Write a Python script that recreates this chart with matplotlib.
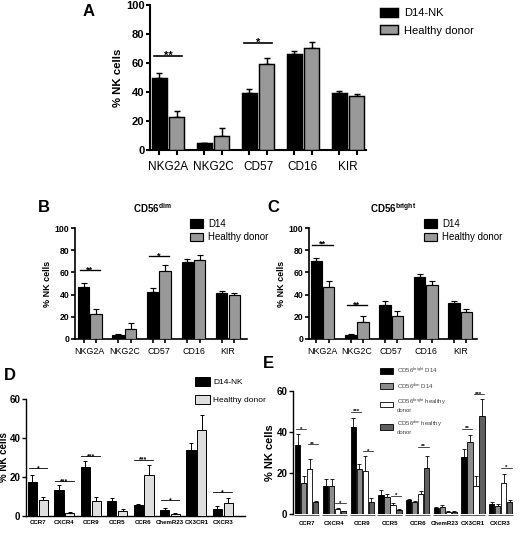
import matplotlib
matplotlib.use('Agg')
import matplotlib.pyplot as plt
import matplotlib.transforms as mtransforms
import numpy as np

plt.rcParams['font.family'] = ['Liberation Sans', 'DejaVu Sans']
plt.rcParams['mathtext.default'] = 'regular'

W, H, DPI = 520, 533, 100

# ─── DATA ────────────────────────────────────────────────────────────────────
nk_markers = ['NKG2A', 'NKG2C', 'CD57', 'CD16', 'KIR']

# A: all NK cells
a_d14 = [49.5, 4.5, 39.5, 66, 39]
a_d14_err = [3.5, 0.5, 2.5, 2.5, 1.5]
a_hd = [23, 9.5, 59, 70, 37]
a_hd_err = [4, 5.5, 4.5, 4.5, 1.5]
a_sig_group = [0, 2]
a_sig_y = [65, 73.5]
a_sig_txt = ['**', '*']

# B: CD56dim
b_d14 = [47, 3.6, 42.7, 69.5, 41.5]
b_d14_err = [3.5, 0.6, 3, 2.5, 2]
b_hd = [22.6, 9, 61.6, 71.6, 40]
b_hd_err = [4.4, 5.4, 4.9, 4.4, 1]
b_sig_group = [0, 2]
b_sig_y = [62, 74.6]
b_sig_txt = ['**', '*']

# C: CD56bright
c_d14 = [70, 3.6, 31, 55.8, 32.8]
c_d14_err = [3, 0.9, 3.3, 3.2, 1.8]
c_hd = [46.6, 15.2, 21, 49, 24.2]
c_hd_err = [5.4, 5.1, 3.8, 3, 2.8]
c_sig_group = [0, 1]
c_sig_y = [85, 30.7]
c_sig_txt = ['**', '**']

# D: chemokine receptors, all NK
chemo = ['CCR7', 'CXCR4', 'CCR9', 'CCR5', 'CCR6', 'ChemR23', 'CX3CR1', 'CXCR3']
d_d14 = [17.4, 13.5, 25, 7.6, 5.6, 3, 33.8, 3.7]
d_d14_err = [3.4, 2.2, 3, 1.7, 0.5, 0.9, 3.7, 1.4]
d_hd = [8.4, 1.5, 7.8, 2.5, 20.8, 1.2, 44, 6.8]
d_hd_err = [1.4, 0.7, 2, 0.9, 5.6, 0.3, 8, 2.5]
d_sig_group = [0, 1, 2, 4, 5, 7]
d_sig_y = [24.5, 17.7, 30.6, 28.9, 8.1, 12.3]
d_sig_txt = ['*', '***', '***', '***', '*', '*']

# E: chemokine receptors by subset
e_bd14 = [33.7, 13.8, 42.3, 9.1, 6.8, 2.8, 28, 4.7]
e_bd14_err = [5.2, 3.1, 4.4, 2.8, 0.5, 0.5, 3.5, 1]
e_dd14 = [15, 13.8, 21.8, 8.1, 5.7, 3.6, 35.3, 4.1]
e_dd14_err = [3.5, 3.1, 2.6, 1.8, 0.5, 0.8, 3.2, 0.8]
e_bhd = [21.8, 2.3, 21, 4.2, 9.6, 1.1, 13.8, 15.3]
e_bhd_err = [5, 0.6, 7.5, 1, 1.8, 0.2, 4.7, 4.2]
e_dhd = [6, 1.3, 6, 2, 22.3, 1.1, 48, 5.9]
e_dhd_err = [0.5, 0.3, 1.6, 0.3, 6.2, 0.2, 8.3, 0.9]
# pair 0 = D14 bright vs dim, pair 1 = healthy bright vs dim
e_sig_group = [0, 0, 1, 2, 2, 3, 4, 6, 6, 7]
e_sig_pair = [0, 1, 1, 0, 1, 1, 1, 0, 1, 1]
e_sig_y = [41.3, 34, 5.2, 50, 30.7, 9, 32.8, 41.6, 58.5, 22.6]
e_sig_txt = ['*', '**', '*', '***', '*', '*', '**', '**', '***', '*']

# ─── HELPERS ─────────────────────────────────────────────────────────────────
fig = plt.figure(figsize=(W / DPI, H / DPI), dpi=DPI)


def add_ax(x0, x1, y_top, y_bot):
    return fig.add_axes([x0 / W, 1 - y_bot / H, (x1 - x0) / W, (y_bot - y_top) / H])


def style(ax, ylim, yticks, yfs, lw=1.2):
    ax.set_ylim(*ylim)
    ax.set_yticks(yticks)
    for s in ['top', 'right']:
        ax.spines[s].set_visible(False)
    for s in ['left', 'bottom']:
        ax.spines[s].set_linewidth(lw)
    ax.tick_params(axis='y', length=3, width=lw, labelsize=yfs, pad=1)
    for t in ax.get_yticklabels():
        t.set_fontweight('bold')


def grouped(ax, series, errs, colors, step, width, lw=0.8, cap=2):
    x = np.arange(len(series[0]))
    offs = (np.arange(len(series)) - (len(series) - 1) / 2) * step
    bars = []
    for s, e, c, o in zip(series, errs, colors, offs):
        b = ax.bar(x + o, s, width, color=c, edgecolor='black', linewidth=lw, zorder=3)
        ax.errorbar(x + o, s, yerr=[np.zeros(len(e)), e], fmt='none', ecolor='black',
                    elinewidth=lw, capsize=cap, capthick=lw, zorder=2)
        bars.append(b)
    return x, offs, bars


def sig(ax, x0, x1, y, txt, fs, lw=1.0):
    ax.plot([x0, x1], [y, y], color='black', lw=lw, clip_on=False, zorder=4)
    ax.annotate(txt, ((x0 + x1) / 2, y), xytext=(0, -fs * 0.25), textcoords='offset points',
                ha='center', va='baseline', fontsize=fs, fontweight='bold')


def legend(handles, labels, x, y, fs, hl, hh, ls, tp, color='black'):
    fig.legend(handles, labels, loc='upper left', bbox_to_anchor=(x / W, 1 - y / H),
               frameon=False, fontsize=fs, handlelength=hl, handleheight=hh,
               labelspacing=ls, handletextpad=tp, borderpad=0, borderaxespad=0,
               labelcolor=color)


def nk_panel(ax, d14, d14e, hd, hde, sg, sy, st, step, width, xlim, xfs, yfs, tick_len,
             pad, sfs, lw):
    x, offs, bars = grouped(ax, [d14, hd], [d14e, hde], ['black', '#999999'], step, width,
                            lw=lw * 0.7, cap=2)
    style(ax, (0, 100), range(0, 101, 20), yfs, lw)
    ax.set_xlim(*xlim)
    ax.set_xticks(x, nk_markers, fontsize=xfs)
    ax.tick_params(axis='x', length=0, pad=pad)
    # tick marks hanging under every bar
    trans = mtransforms.blended_transform_factory(ax.transData, ax.transAxes)
    frac = tick_len / (ax.get_position().height * H)
    for o in offs:
        ax.vlines(x + o, -frac, 0, color='black', lw=lw, transform=trans, clip_on=False)
    for g, y, t in zip(sg, sy, st):
        sig(ax, g + offs[0] - width * 0.35, g + offs[1] + width * 0.35, y, t, sfs, lw * 0.8)
    return bars


# ─── PANEL A ─────────────────────────────────────────────────────────────────
axA = add_ax(150, 366, 5, 150)
barsA = nk_panel(axA, a_d14, a_d14_err, a_hd, a_hd_err, a_sig_group, a_sig_y, a_sig_txt,
                 0.378, 0.355, (-0.4, 4.4), 8.5, 8, 5, 8, 8, 1.5)
axA.set_ylabel('% NK cells', fontsize=8.2, fontweight='bold', labelpad=2)
fig.text(83 / W, 1 - 12 / H, 'A', fontsize=12, fontweight='bold', va='center')
legend(barsA, ['D14-NK', 'Healthy donor'], 380, 8, 8, 1.6, 0.9, 0.6, 0.6)

# ─── PANEL B ─────────────────────────────────────────────────────────────────
axB = add_ax(75, 247, 228, 339)
barsB = nk_panel(axB, b_d14, b_d14_err, b_hd, b_hd_err, b_sig_group, b_sig_y, b_sig_txt,
                 0.36, 0.33, (-0.43, 4.55), 6.4, 6.2, 3.5, 5.5, 6.5, 1.2)
axB.set_ylabel('% NK cells', fontsize=6.5, fontweight='bold', labelpad=2)
axB.set_title('CD56$^{dim}$', fontsize=7, fontweight='bold', x=0.45, y=1.06)
fig.text(38 / W, 1 - 207 / H, 'B', fontsize=12, fontweight='bold', va='center')
legend(barsB, ['D14', 'Healthy donor'], 190, 219, 7, 1.35, 0.95, 0.35, 0.5)

# ─── PANEL C ─────────────────────────────────────────────────────────────────
axC = add_ax(309, 477, 228, 339)
barsC = nk_panel(axC, c_d14, c_d14_err, c_hd, c_hd_err, c_sig_group, c_sig_y, c_sig_txt,
                 0.36, 0.33, (-0.39, 4.49), 6.4, 6.2, 3.5, 5.5, 6.5, 1.2)
axC.set_ylabel('% NK cells', fontsize=6.5, fontweight='bold', labelpad=2)
axC.set_title('CD56$^{bright}$', fontsize=7, fontweight='bold', x=0.5, y=1.06)
fig.text(267 / W, 1 - 207 / H, 'C', fontsize=12, fontweight='bold', va='center')
legend(barsC, ['D14', 'Healthy donor'], 424, 219, 7, 1.35, 0.95, 0.35, 0.5)

# ─── PANEL D ─────────────────────────────────────────────────────────────────
axD = add_ax(26, 245, 399, 516)
xD, offD, barsD = grouped(axD, [d_d14, d_hd], [d_d14_err, d_hd_err], ['black', '#dedede'],
                          0.41, 0.35, lw=0.7, cap=1.5)
style(axD, (0, 60), range(0, 61, 20), 7, 1.0)
axD.set_xlim(-0.45, 7.84)
axD.set_xticks(xD)
axD.set_xticklabels(chemo, fontsize=4.4, fontweight='bold')
axD.tick_params(axis='x', length=0, pad=3)
axD.set_ylabel('% NK cells', fontsize=7, fontweight='bold')
axD.yaxis.set_label_coords(-0.078, 0.5)
for g, y, t in zip(d_sig_group, d_sig_y, d_sig_txt):
    sig(axD, g + offD[0] - 0.15, g + offD[1] + 0.15, y, t, 5, 0.6)
fig.text(4 / W, 1 - 376 / H, 'D', fontsize=12, fontweight='bold', va='center')
legend(barsD, ['D14-NK', 'Healthy donor'], 195, 377, 6, 1.8, 1.2, 1.1, 0.35)

# ─── PANEL E ─────────────────────────────────────────────────────────────────
axE = add_ax(293, 520, 391, 514)
xE, offE, barsE = grouped(axE, [e_bd14, e_dd14, e_bhd, e_dhd],
                          [e_bd14_err, e_dd14_err, e_bhd_err, e_dhd_err],
                          ['black', '#8c8c8c', 'white', '#5f5f5f'], 0.217, 0.19, lw=0.6,
                          cap=1.2)
style(axE, (0, 60), range(0, 61, 20), 7, 1.0)
axE.spines['bottom'].set_visible(False)
axE.set_xlim(-0.5, 7.7)
axE.set_xticks(xE)
axE.set_xticklabels(chemo, fontsize=4.4, fontweight='bold')
axE.tick_params(axis='x', length=0, pad=5)
axE.hlines(np.full(len(xE), -0.5), xE - 0.45, xE + 0.45, color='#444444', lw=0.6,
           clip_on=False)
axE.set_ylabel('% NK cells', fontsize=8, fontweight='bold', labelpad=1)
for g, p, y, t in zip(e_sig_group, e_sig_pair, e_sig_y, e_sig_txt):
    a, b = offE[2 * p], offE[2 * p + 1]
    sig(axE, g + a - 0.08, g + b + 0.08, y, t, 4.5, 0.5)
fig.text(263 / W, 1 - 363 / H, 'E', fontsize=12, fontweight='bold', va='center')
legend(barsE, ['CD56$^{bright}$ D14', 'CD56$^{dim}$ D14', 'CD56$^{bright}$ healthy\ndonor',
               'CD56$^{dim}$ healthy\ndonor'], 380, 366, 4.3, 2.2, 1.1, 1.0, 0.6,
       color='#444444')

plt.savefig('out.png', dpi=DPI, facecolor='white')
